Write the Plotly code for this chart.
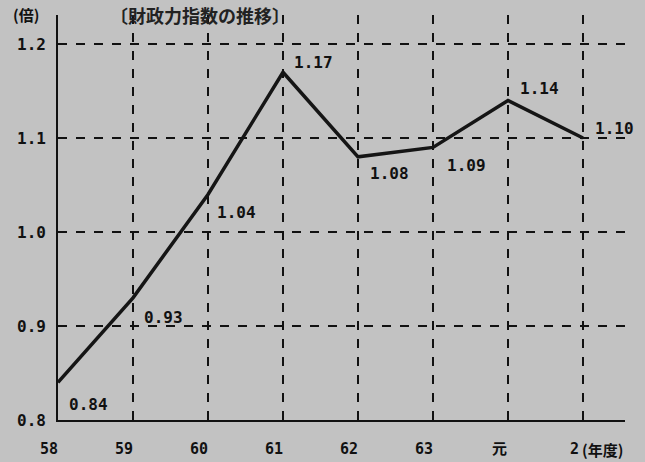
import plotly.graph_objects as go

categories = ["58", "59", "60", "61", "62", "63", "元", "2"]
values = [0.84, 0.93, 1.04, 1.17, 1.08, 1.09, 1.14, 1.10]
value_labels = ["0.84", "0.93", "1.04", "1.17", "1.08", "1.09", "1.14", "1.10"]
y_ticks = [0.8, 0.9, 1.0, 1.1, 1.2]
y_tick_labels = ["0.8", "0.9", "1.0", "1.1", "1.2"]

# label offsets (px) relative to each point
label_dx = [9, 9, 7, 9, 10, 12, 10, 10]
label_dy = [-22, -20, -18, 10, -17, -18, 12, 10]

x_idx = list(range(len(categories)))
BG = "#c2c2c2"
FONT = "DejaVu Sans Mono"
INK = "#111111"

fig = go.Figure()
fig.add_trace(go.Scatter(
    x=x_idx, y=values, mode="lines",
    line=dict(color="#151515", width=3.5),
    hoverinfo="skip", showlegend=False,
))

for i, (v, t) in enumerate(zip(values, value_labels)):
    fig.add_annotation(
        x=i, y=v, xref="x", yref="y", text="<b>%s</b>" % t,
        showarrow=False, xanchor="left", yanchor="middle",
        xshift=label_dx[i], yshift=label_dy[i],
        font=dict(family=FONT, size=16, color=INK),
    )

# x category labels
for i, c in enumerate(categories):
    fig.add_annotation(
        x=i, y=0, xref="x", yref="paper", text="<b>%s</b>" % c,
        showarrow=False, xanchor="center", yanchor="top",
        xshift=-9, yshift=-18,
        font=dict(family=FONT + ", Noto Sans CJK JP", size=15, color=INK),
    )
fig.add_annotation(
    x=len(categories) - 1, y=0, xref="x", yref="paper", text="<b>(年度)</b>",
    showarrow=False, xanchor="left", yanchor="top", xshift=-3, yshift=-17,
    font=dict(family="Noto Sans CJK JP", size=15, color=INK),
)

# y tick labels
for v, t in zip(y_ticks, y_tick_labels):
    fig.add_annotation(
        x=0, y=v, xref="paper", yref="y", text="<b>%s</b>" % t,
        showarrow=False, xanchor="right", yanchor="middle", xshift=-10,
        font=dict(family=FONT, size=16, color=INK),
    )

fig.add_annotation(
    x=0, y=1, xref="paper", yref="paper", text="<b>(倍)</b>",
    showarrow=False, xanchor="right", yanchor="bottom", xshift=-17, yshift=-12,
    font=dict(family="Noto Sans CJK JP", size=15, color=INK),
)
fig.add_annotation(
    x=(200 - 58) / 567, y=1, xref="paper", yref="paper",
    text="<b>〔財政力指数の推移〕</b>", showarrow=False,
    xanchor="center", yanchor="top", yshift=15,
    font=dict(family="Noto Sans CJK JP", size=18, color="#222222"),
)

fig.update_layout(
    width=645, height=462,
    margin=dict(l=58, r=20, t=15, b=42),
    paper_bgcolor=BG, plot_bgcolor=BG,
    xaxis=dict(
        range=[0, 7.56], tickvals=x_idx[1:], showticklabels=False,
        showgrid=True, gridcolor=INK, griddash="dash", gridwidth=1.5,
        zeroline=False, showline=True, linecolor=INK, linewidth=2,
        ticks="",
    ),
    yaxis=dict(
        range=[0.8, 1.2309], tickvals=y_ticks[1:], showticklabels=False,
        showgrid=True, gridcolor=INK, griddash="dash", gridwidth=1.5,
        zeroline=False, showline=True, linecolor=INK, linewidth=2,
        ticks="",
    ),
)

fig.write_html(
    "out.html",
    config={"displayModeBar": False},
    post_script="document.body.style.margin='0';document.body.style.background='%s';" % BG,
)
